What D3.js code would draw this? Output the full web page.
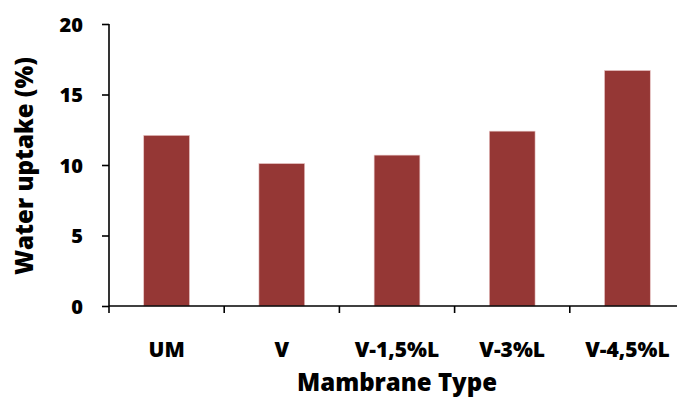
<!DOCTYPE html>
<html>
<head>
<meta charset="utf-8">
<script src="https://cdn.jsdelivr.net/npm/d3@7"></script>
<style>
  html, body { margin: 0; padding: 0; background: #fff; }
  text { font-family: "Open Sans", Lato, sans-serif; font-weight: 800; fill: #000; }
</style>
</head>
<body>
<svg id="chart" width="677" height="398"></svg>
<script>
const categories = ["UM", "V", "V-1,5%L", "V-3%L", "V-4,5%L"];
const waterUptake = [12.1, 10.1, 10.7, 12.4, 16.7];
const yTicks = [0, 5, 10, 15, 20];
const yTitle = "Water uptake (%)";
const xTitle = "Mambrane Type";

const svg = d3.select("#chart");
const mLeft = 109, mRight = 685, mTop = 24, mBottom = 306;

const x = d3.scaleBand().domain(categories).range([mLeft, mRight]).padding(0);
const y = d3.scaleLinear().domain([0, 20]).range([mBottom, mTop]);

const barW = x.bandwidth() * 0.397;

svg.append("g").selectAll("rect")
  .data(categories)
  .enter().append("rect")
  .attr("x", d => x(d) + (x.bandwidth() - barW) / 2)
  .attr("y", (d, i) => y(waterUptake[i]))
  .attr("width", barW)
  .attr("height", (d, i) => y(0) - y(waterUptake[i]))
  .attr("fill", "#953735")
  .attr("stroke", "#e8c4c3")
  .attr("stroke-width", 0.6);

// Y axis
const yAxis = svg.append("g").attr("transform", `translate(${mLeft},0)`)
  .call(d3.axisLeft(y).tickValues(yTicks).tickSize(7).tickPadding(19).tickFormat(d3.format("d")));
yAxis.select(".domain").attr("d", `M0,${mTop}V${mBottom}`).attr("stroke", "#000").attr("stroke-width", 1.6);
yAxis.selectAll(".tick line").attr("stroke", "#000").attr("stroke-width", 1.6);
yAxis.selectAll(".tick text").style("font-size", "20px").attr("dy", "0.36em");

// X axis
const xAxis = svg.append("g").attr("transform", `translate(0,${mBottom})`);
xAxis.append("line").attr("x1", mLeft).attr("x2", mRight).attr("y1", 0).attr("y2", 0)
  .attr("stroke", "#000").attr("stroke-width", 1.6);
const boundaries = categories.map(c => x(c));
xAxis.selectAll("line.tk").data(boundaries).enter().append("line")
  .attr("class", "tk")
  .attr("x1", d => d).attr("x2", d => d).attr("y1", 0).attr("y2", 7)
  .attr("stroke", "#000").attr("stroke-width", 1.6);
xAxis.selectAll("text.lbl").data(categories).enter().append("text")
  .attr("class", "lbl")
  .attr("x", d => x(d) + x.bandwidth() / 2)
  .attr("y", 51)
  .attr("text-anchor", "middle")
  .style("font-size", "21px")
  .text(d => d);

// Titles
svg.append("text")
  .attr("transform", `translate(33,${(mTop + mBottom) / 2 + 1}) rotate(-90)`)
  .attr("text-anchor", "middle")
  .style("font-size", "24px")
  .text(yTitle);

svg.append("text")
  .attr("x", (mLeft + mRight) / 2)
  .attr("y", 391)
  .attr("text-anchor", "middle")
  .style("font-size", "24px")
  .text(xTitle);
</script>
</body>
</html>
